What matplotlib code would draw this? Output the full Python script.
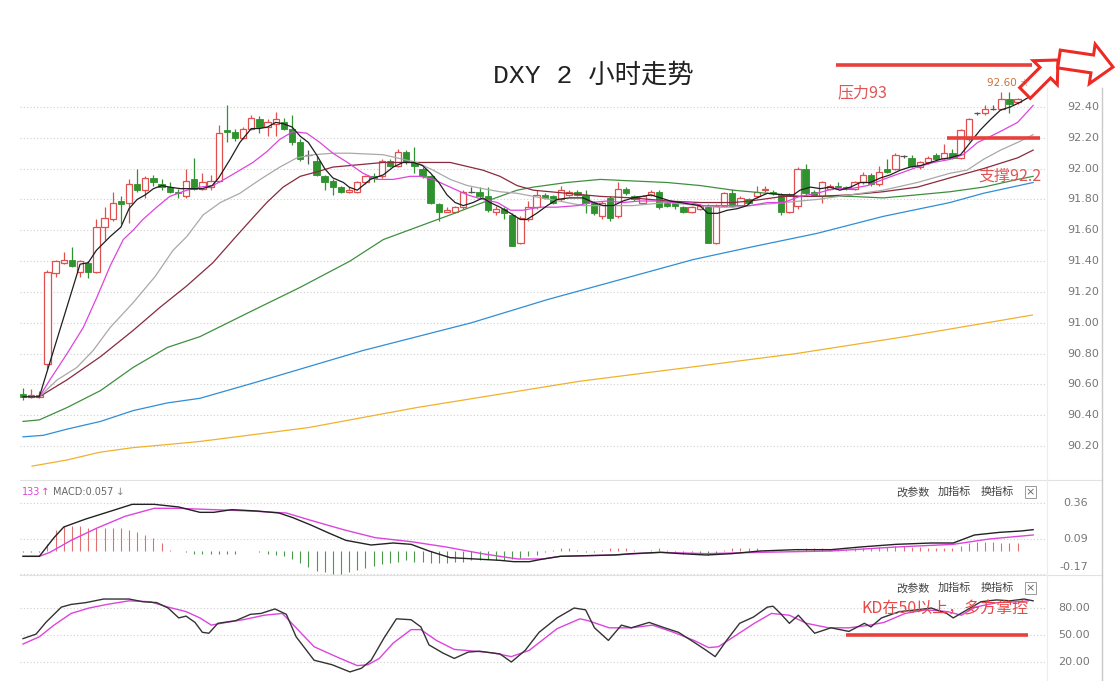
import matplotlib
matplotlib.use("Agg")
import matplotlib.pyplot as plt
from matplotlib.patches import Rectangle, FancyArrow

# 2 hour candles
opens = [90.54, 90.52, 90.52, 90.73, 91.32, 91.39, 91.41, 91.33, 91.39, 91.33,
         91.62, 91.67, 91.79, 91.78, 91.90, 91.86, 91.94, 91.90, 91.88, 91.85,
         91.82, 91.93, 91.87, 91.88, 91.92, 92.25, 92.24, 92.20, 92.26, 92.32,
         92.27, 92.29, 92.30, 92.26, 92.17, 92.09, 92.05, 91.95, 91.92, 91.88,
         91.85, 91.85, 91.91, 91.95, 91.95, 92.05, 92.02, 92.11, 92.04, 92.00,
         91.95, 91.77, 91.72, 91.72, 91.75, 91.85, 91.85, 91.82, 91.72, 91.74,
         91.70, 91.52, 91.67, 91.75, 91.83, 91.82, 91.80, 91.83, 91.85, 91.83,
         91.78, 91.69, 91.81, 91.69, 91.87, 91.82, 91.78, 91.83, 91.85, 91.78,
         91.78, 91.75, 91.72, 91.74, 91.75, 91.52, 91.76, 91.84, 91.76, 91.80,
         91.82, 91.86, 91.85, 91.83, 91.72, 91.76, 92.00, 91.85, 91.82, 91.87,
         91.89, 91.88, 91.87, 91.91, 91.96, 91.90, 92.00, 92.00, 92.08, 92.07,
         92.01, 92.04, 92.09, 92.07, 92.10, 92.07, 92.19, 92.36, 92.36, 92.39,
         92.39, 92.45, 92.43]
closes = [90.52, 90.53, 90.53, 91.33, 91.40, 91.41, 91.37, 91.40, 91.33, 91.62,
          91.68, 91.78, 91.77, 91.90, 91.86, 91.94, 91.91, 91.88, 91.85, 91.84,
          91.92, 91.87, 91.91, 91.92, 92.23, 92.24, 92.20, 92.26, 92.33, 92.27,
          92.30, 92.32, 92.26, 92.17, 92.06, 92.09, 91.96, 91.91, 91.88, 91.85,
          91.86, 91.91, 91.95, 91.94, 92.05, 92.02, 92.11, 92.04, 92.02, 91.95,
          91.78, 91.72, 91.73, 91.75, 91.85, 91.85, 91.82, 91.73, 91.74, 91.71,
          91.50, 91.68, 91.75, 91.83, 91.81, 91.78, 91.86, 91.85, 91.83, 91.78,
          91.71, 91.78, 91.68, 91.87, 91.84, 91.80, 91.82, 91.85, 91.75, 91.76,
          91.76, 91.72, 91.75, 91.76, 91.52, 91.76, 91.84, 91.76, 91.81, 91.78,
          91.85, 91.87, 91.84, 91.72, 91.83, 92.00, 91.84, 91.83, 91.91, 91.89,
          91.88, 91.87, 91.91, 91.96, 91.90, 91.98, 91.98, 92.09, 92.08, 92.02,
          92.04, 92.07, 92.06, 92.10, 92.07, 92.25, 92.32, 92.36, 92.39, 92.39,
          92.45, 92.42, 92.45]
highs = [90.58, 90.57, 90.56, 91.34, 91.41, 91.46, 91.49, 91.41, 91.40, 91.67,
         91.75, 91.85, 91.82, 91.93, 92.00, 91.95, 91.96, 91.93, 91.91, 91.87,
         92.00, 92.07, 91.97, 91.96, 92.28, 92.41, 92.26, 92.27, 92.35, 92.34,
         92.32, 92.37, 92.33, 92.35, 92.19, 92.12, 92.08, 91.96, 91.93, 91.89,
         91.88, 91.92, 91.96, 91.97, 92.06, 92.06, 92.13, 92.12, 92.14, 92.01,
         91.96, 91.78, 91.75, 91.76, 91.86, 91.88, 91.88, 91.88, 91.76, 91.75,
         91.71, 91.69, 91.79, 91.86, 91.84, 91.83, 91.89, 91.86, 91.86, 91.86,
         91.79, 91.79, 91.82, 91.91, 91.88, 91.83, 91.83, 91.86, 91.86, 91.79,
         91.79, 91.76, 91.76, 91.77, 91.77, 91.77, 91.85, 91.87, 91.82, 91.81,
         91.89, 91.89, 91.86, 91.84, 91.84, 92.01, 92.03, 91.86, 91.92, 91.90,
         91.91, 91.89, 91.92, 91.98, 91.97, 92.02, 92.06, 92.10, 92.09, 92.09,
         92.05, 92.08, 92.10, 92.16, 92.13, 92.26, 92.33, 92.37, 92.41, 92.41,
         92.50, 92.50, 92.46]
lows = [90.50, 90.51, 90.51, 90.70, 91.30, 91.38, 91.36, 91.30, 91.29, 91.32,
        91.54, 91.66, 91.64, 91.65, 91.85, 91.81, 91.89, 91.86, 91.84, 91.81,
        91.81, 91.86, 91.86, 91.86, 91.91, 92.17, 92.18, 92.19, 92.25, 92.23,
        92.21, 92.21, 92.25, 92.15, 92.05, 92.03, 91.95, 91.86, 91.83, 91.84,
        91.84, 91.84, 91.90, 91.91, 91.94, 92.01, 92.01, 92.03, 91.97, 91.94,
        91.77, 91.66, 91.72, 91.71, 91.74, 91.84, 91.81, 91.72, 91.70, 91.67,
        91.50, 91.51, 91.66, 91.74, 91.80, 91.77, 91.79, 91.82, 91.82, 91.71,
        91.70, 91.67, 91.66, 91.68, 91.83, 91.79, 91.77, 91.82, 91.74, 91.75,
        91.74, 91.71, 91.71, 91.73, 91.52, 91.51, 91.75, 91.75, 91.75, 91.77,
        91.81, 91.85, 91.83, 91.70, 91.71, 91.74, 91.83, 91.82, 91.78, 91.86,
        91.87, 91.86, 91.86, 91.90, 91.89, 91.89, 91.97, 91.99, 92.07, 92.01,
        92.00, 92.03, 92.05, 92.06, 92.06, 92.06, 92.18, 92.35, 92.35, 92.38,
        92.38, 92.36, 92.42]

# moving averages as (bar index, price) read at points along each line
ma5_pts = [(0, 90.52), (2, 90.52), (7, 91.38), (8, 91.39), (9, 91.47), (10.7, 91.56),
           (12, 91.62), (13, 91.74), (14, 91.80), (15, 91.83), (16, 91.87), (17, 91.89),
           (18, 91.88), (19.3, 91.87), (21, 91.87), (22, 91.87), (23.2, 91.89), (24, 91.94),
           (25.4, 92.06), (26.6, 92.17), (28, 92.26), (29, 92.26), (30, 92.27), (31, 92.30),
           (32, 92.29), (33, 92.27), (34, 92.21), (35, 92.17), (36, 92.09), (37, 92.00),
           (38, 91.94), (39.3, 91.91), (40, 91.88), (41, 91.86), (42.6, 91.93), (44.2, 91.96),
           (45.4, 92.01), (46.6, 92.04), (47.9, 92.04), (49, 92.02), (50, 91.97), (51, 91.91),
           (52, 91.83), (53, 91.78), (54, 91.76), (55.2, 91.78), (56.4, 91.81), (57.3, 91.78),
           (58.5, 91.75), (59.8, 91.71), (61, 91.67), (61.8, 91.67), (63, 91.71), (64.3, 91.76),
           (65.5, 91.80), (67, 91.81), (68.7, 91.81), (70, 91.78), (71.2, 91.76), (72.4, 91.76),
           (73.6, 91.79), (74.8, 91.81), (76, 91.82), (77, 91.83), (78.2, 91.81), (79.4, 91.79),
           (80.6, 91.78), (81.8, 91.77), (83, 91.76), (84, 91.71), (85.2, 91.71), (86.4, 91.73),
           (87.6, 91.74), (88.8, 91.76), (89.6, 91.80), (91.3, 91.84), (93.3, 91.83), (94.5, 91.83),
           (95.3, 91.86), (96.6, 91.88), (97.8, 91.87), (99, 91.88), (100.2, 91.86), (101.5, 91.88),
           (102.7, 91.91), (103.9, 91.91), (105.2, 91.94), (106.4, 91.96), (107.6, 91.99),
           (108.8, 92.01), (110.1, 92.02), (111.3, 92.04), (112.5, 92.06), (113.7, 92.07),
           (115, 92.09), (116.2, 92.17), (117.4, 92.25), (118.7, 92.32), (119.9, 92.38),
           (121.1, 92.40), (122.3, 92.43), (123.9, 92.48)]
ma10_pts = [(2, 90.52), (3.3, 90.63), (5.4, 90.80), (7.4, 90.97), (9.1, 91.17), (10.7, 91.37),
            (12.3, 91.54), (13.5, 91.60), (14.7, 91.67), (16.4, 91.75), (18, 91.82), (20.1, 91.86),
            (21.7, 91.88), (23.3, 91.89), (25, 91.94), (26.6, 91.99), (28.2, 92.04), (29.9, 92.11),
            (31.5, 92.19), (33.1, 92.24), (34.8, 92.23), (36.4, 92.17), (38, 92.10), (39.8, 92.04),
            (41.7, 91.97), (43.4, 91.93), (45.4, 91.93), (47.5, 91.95), (48.7, 91.95), (50.3, 91.93),
            (52.4, 91.88), (54.5, 91.83), (56.4, 91.80), (58.2, 91.78), (59.8, 91.73), (61.3, 91.73),
            (63.4, 91.75), (65.5, 91.75), (68, 91.76), (69.6, 91.78), (71.7, 91.79), (73.6, 91.78),
            (75.7, 91.79), (77.8, 91.79), (79.8, 91.78), (81.8, 91.78), (83.4, 91.76), (85.2, 91.76),
            (87.1, 91.76), (89.2, 91.76), (91.3, 91.78), (93.3, 91.78), (95.3, 91.82), (97.4, 91.84),
            (99.4, 91.87), (101.5, 91.87), (103.6, 91.89), (105.5, 91.93), (107.6, 91.97),
            (109.7, 92.01), (111.7, 92.04), (113.7, 92.06), (115.3, 92.09), (117.1, 92.17),
            (118.7, 92.21), (120.2, 92.25), (122, 92.30), (123.9, 92.41)]
ma20_pts = [(2, 90.52), (4.2, 90.63), (6.6, 90.71), (8.6, 90.82), (10.7, 90.97), (13.5, 91.13),
            (16.2, 91.30), (18.4, 91.47), (20.1, 91.56), (22.1, 91.70), (24.2, 91.78), (26.6, 91.84),
            (29.1, 91.93), (31.5, 92.01), (33.6, 92.07), (35.6, 92.09), (38, 92.10), (40.1, 92.10),
            (44.2, 92.09), (48.3, 92.04), (50.3, 91.99), (52.4, 91.93), (54.5, 91.89), (56.4, 91.87),
            (58.5, 91.85), (60.6, 91.84), (62.6, 91.82), (64.7, 91.80), (66.7, 91.78), (68.7, 91.76),
            (70.8, 91.76), (72.9, 91.76), (74.8, 91.76), (76.9, 91.77), (79, 91.78), (81, 91.77),
            (83.1, 91.76), (85.2, 91.75), (87.1, 91.75), (89.2, 91.76), (93.3, 91.78), (97.4, 91.80),
            (101.5, 91.83), (105.5, 91.86), (109.7, 91.91), (113.7, 91.97), (115.8, 91.99),
            (117.8, 92.06), (119.9, 92.12), (122, 92.17), (123.9, 92.22)]
ma30_pts = [(2, 90.52), (5.4, 90.63), (9.5, 90.78), (13.5, 90.95), (16.8, 91.10), (20.1, 91.24),
            (23.3, 91.39), (25.8, 91.54), (28, 91.67), (29.9, 91.78), (31.9, 91.88), (34, 91.95),
            (36.1, 91.98), (38, 92.01), (40.1, 92.02), (44.2, 92.04), (48.3, 92.04), (52.4, 92.04),
            (56.4, 91.99), (58.5, 91.95), (60.6, 91.89), (62.6, 91.86), (66.7, 91.84), (70.8, 91.82),
            (74.8, 91.81), (79, 91.79), (83.1, 91.78), (87.1, 91.78), (89.2, 91.79), (93.3, 91.82),
            (97.4, 91.82), (101.5, 91.83), (105.5, 91.85), (109.7, 91.88), (113.7, 91.94),
            (117.8, 92.00), (122, 92.07), (123.9, 92.12)]
ma60_pts = [(0, 90.36), (2, 90.37), (5.4, 90.45), (9.5, 90.56), (13.5, 90.71), (17.7, 90.84),
            (21.7, 90.91), (28.2, 91.08), (34, 91.23), (40.1, 91.40), (44.2, 91.54), (48.3, 91.62),
            (52.4, 91.70), (56.4, 91.78), (58.5, 91.82), (60.6, 91.86), (62.6, 91.88), (66.7, 91.91),
            (70.8, 91.93), (74.8, 91.92), (79, 91.91), (83.1, 91.89), (87.1, 91.86), (89.2, 91.85),
            (95.3, 91.82), (101.5, 91.82), (105.5, 91.81), (109.7, 91.83), (113.7, 91.85),
            (117.8, 91.88), (122, 91.93), (123.9, 91.95)]
ma120_pts = [(0, 90.26), (2.5, 90.27), (5.4, 90.31), (9.5, 90.36), (13.5, 90.43), (17.7, 90.48),
             (21.7, 90.51), (28.3, 90.61), (41.7, 90.82), (55, 91.00), (64.3, 91.15), (82.2, 91.41),
             (89.2, 91.49), (97.4, 91.58), (105.5, 91.69), (113.7, 91.78), (117.8, 91.84),
             (123.9, 91.91)]
ma250_pts = [(1.1, 90.07), (5.4, 90.11), (9.4, 90.16), (13.5, 90.19), (17.7, 90.21), (21.7, 90.23),
             (35, 90.32), (48.3, 90.45), (68.2, 90.62), (81.6, 90.71), (94.8, 90.80), (108.2, 90.91),
             (123.8, 91.05)]

price_ticks = [90.20, 90.40, 90.60, 90.80, 91.00, 91.20, 91.40, 91.60, 91.80, 92.00, 92.20, 92.40]

# MACD panel
macd_hist = [-0.01, -0.01, -0.01, 0.05, 0.16, 0.19, 0.19, 0.19, 0.17, 0.17,
             0.17, 0.17, 0.17, 0.16, 0.14, 0.12, 0.10, 0.06, 0.01, 0.0,
             -0.01, -0.02, -0.02, -0.02, -0.02, -0.02, -0.02, 0.0, 0.0, -0.01,
             -0.02, -0.03, -0.04, -0.06, -0.09, -0.12, -0.15, -0.16, -0.17, -0.17,
             -0.16, -0.14, -0.13, -0.11, -0.10, -0.09, -0.08, -0.07, -0.08, -0.08,
             -0.09, -0.09, -0.09, -0.08, -0.08, -0.07, -0.07, -0.06, -0.07, -0.07,
             -0.06, -0.05, -0.04, -0.03, -0.01, 0.01, 0.02, 0.02, 0.01, -0.01,
             -0.01, 0.01, 0.02, 0.02, 0.02, 0.01, 0.0, 0.01, 0.02, 0.01,
             -0.01, -0.02, -0.01, -0.02, -0.03, -0.02, 0.01, 0.02, 0.02, 0.02,
             0.02, 0.01, 0.01, 0.01, 0.0, 0.01, 0.02, 0.02, 0.02, 0.01,
             0.01, 0.01, 0.02, 0.02, 0.02, 0.03, 0.03, 0.04, 0.04, 0.03,
             0.03, 0.02, 0.02, 0.02, 0.02, 0.04, 0.06, 0.07, 0.07, 0.07,
             0.06, 0.06, 0.06]
dif_pts = [(0, -0.04), (2, -0.04), (3.8, 0.10), (5, 0.18), (7.7, 0.24), (10.3, 0.29), (13.4, 0.35),
           (16.1, 0.35), (19.1, 0.33), (21.7, 0.29), (23.4, 0.29), (25.6, 0.31), (28.7, 0.30),
           (31.4, 0.285), (33.1, 0.25), (35.3, 0.195), (37.5, 0.135), (39.6, 0.08), (42.7, 0.045),
           (45.4, 0.06), (47.6, 0.05), (49.8, 0.0), (52.4, -0.05), (55.5, -0.06), (58.5, -0.07),
           (60.2, -0.08), (62.1, -0.08), (63.8, -0.06), (65.9, -0.04), (72.5, -0.03), (74.6, -0.02),
           (78.2, -0.01), (80.7, -0.02), (83.8, -0.03), (86.9, -0.02), (90.4, 0.0), (94.8, 0.01),
           (99.1, 0.01), (102.7, 0.03), (107.1, 0.05), (111.4, 0.06), (114.1, 0.06), (116.7, 0.12),
           (119.8, 0.14), (122.4, 0.15), (123.9, 0.16)]
dea_pts = [(0, -0.04), (2, -0.04), (3.3, -0.01), (5.9, 0.08), (9, 0.17), (12.5, 0.26), (16.1, 0.32),
           (19.1, 0.32), (23.4, 0.31), (27.9, 0.30), (32.3, 0.285), (35.3, 0.23), (39.3, 0.16),
           (43.2, 0.10), (47.6, 0.07), (51.9, 0.03), (56.3, -0.02), (60.7, -0.06), (63.8, -0.06),
           (65.9, -0.04), (72.5, -0.03), (78.2, -0.01), (83.8, -0.02), (90.4, -0.01), (99.1, 0.0),
           (107.1, 0.03), (114.1, 0.05), (118.5, 0.09), (123.9, 0.12)]
macd_ticks = [0.36, 0.09, -0.17]

# KD panel
k_pts = [(0, 46), (1.6, 51), (2.8, 64), (4.7, 81), (5.9, 84), (7.7, 86), (9.9, 90), (13, 90),
         (14.7, 87), (16.4, 86), (17.8, 80), (19.1, 69), (20, 71), (21.1, 64), (22, 53), (22.8, 52),
         (23.9, 63), (26.1, 66), (27.9, 73), (29.2, 74), (30.9, 79), (32.3, 73), (33.5, 48),
         (35.7, 22), (37.9, 17), (40.1, 9), (41.5, 13), (42.7, 22), (44.3, 47), (45.8, 68),
         (47.6, 67), (48.8, 59), (49.8, 39), (51.5, 30), (52.9, 24), (54.6, 31), (56, 32),
         (58.5, 29), (59.9, 20), (61.6, 33), (63.3, 53), (65.5, 69), (67.6, 80), (69, 78),
         (70.1, 58), (71.8, 44), (73.4, 61), (74.6, 58), (76.8, 64), (78.7, 58), (80.4, 53),
         (82.3, 42), (83.8, 33), (84.9, 26), (86.3, 44), (87.9, 63), (89.6, 70), (91.3, 81),
         (92, 82), (92.9, 74), (94, 63), (95.1, 72), (97.1, 52), (99.1, 58), (101.3, 54),
         (103.2, 63), (104, 59), (105.3, 69), (107.5, 76), (109.7, 78), (111.4, 80), (113.3, 74),
         (114.1, 69), (115.8, 78), (117.5, 87), (119.4, 89), (121.1, 88), (122.8, 90), (123.9, 88)]
d_pts = [(0, 40), (2, 48), (3.8, 61), (5.9, 74), (8.1, 80), (10.3, 84), (13, 88), (15.6, 87),
         (17.8, 81), (20, 76), (21.7, 69), (23.1, 61), (24.3, 63), (27, 67), (29.6, 72), (31.8, 74),
         (33.5, 58), (35.7, 37), (38.4, 26), (41, 16), (42.3, 17), (43.7, 24), (45.4, 41),
         (47.6, 56), (48.8, 56), (50.7, 44), (52.9, 34), (55.5, 32), (57.7, 30), (59.9, 26),
         (62.1, 33), (65.5, 57), (68.3, 68), (69.3, 66), (71.9, 58), (74.6, 58), (77.2, 61),
         (79.8, 53), (82.3, 44), (84.1, 36), (85.3, 37), (87.5, 50), (89.7, 63), (91.8, 74),
         (94, 72), (96.1, 63), (98.8, 58), (101.3, 58), (103.9, 61), (105.6, 64), (108.2, 74),
         (110.8, 78), (113.4, 76), (115.1, 72), (116.8, 81), (119.5, 86), (122.1, 87), (123.3, 88)]
kd_ticks = [80, 50, 20]

W, H = 1119, 681
fig = plt.figure(figsize=(W / 100, H / 100), dpi=100)


def box(left, top, right, bottom):
    return [left / W, 1 - bottom / H, (right - left) / W, (bottom - top) / H]


ax = fig.add_axes(box(20, 88, 1047, 480))
macd_ax = fig.add_axes(box(20, 480, 1047, 575))
kd_ax = fig.add_axes(box(20, 575, 1047, 681))
for a in (ax, macd_ax, kd_ax):
    a.set_xlim(-0.37, 125.6)
    a.axis('off')
ax.set_ylim(89.98, 92.523)
macd_ax.set_ylim(-0.18, 0.5325)
kd_ax.set_ylim(-1.1, 116.7)

grid_kw = dict(color='#cfcfcf', lw=0.8, ls=(0, (1, 2)), zorder=0)
label_kw = dict(fontsize=8, color='#777777', va='center')

for v in price_ticks:
    ax.axhline(v, **grid_kw)
    ax.text(1.0195, v, f'{v:.2f}', transform=ax.get_yaxis_transform(), ha='left', **label_kw)

red = '#e05050'
green = '#2f922f'
bw = 0.78
for i, (o, h, l, c) in enumerate(zip(opens, highs, lows, closes)):
    if c > o:
        ax.vlines(i, l, o, color=red, lw=0.9, zorder=2)
        ax.vlines(i, c, h, color=red, lw=0.9, zorder=2)
        ax.add_patch(Rectangle((i - bw / 2, o), bw, c - o, fc='white', ec=red, lw=0.9, zorder=2))
    elif c < o:
        ax.vlines(i, l, h, color=green, lw=0.9, zorder=2)
        ax.add_patch(Rectangle((i - bw / 2, c), bw, o - c, fc=green, ec=green, lw=0.6, zorder=2))
    else:
        ax.vlines(i, l, h, color='#555555', lw=0.9, zorder=2)
        ax.hlines(o, i - bw / 2, i + bw / 2, color='#555555', lw=0.9, zorder=2)

ma_lines = [(ma250_pts, '#f0b22e'), (ma120_pts, '#2f8ed6'), (ma60_pts, '#3f8f3f'),
            (ma30_pts, '#8a2a3c'), (ma20_pts, '#a9a9a9'), (ma10_pts, '#dd44dd'),
            (ma5_pts, '#1e1e1e')]
for pts, col in ma_lines:
    xs, ys = zip(*pts)
    ax.plot(xs, ys, color=col, lw=0.9, zorder=3)

# support line at 92.2
ax.hlines(92.20, 113.3, 124.7, color='#e8413c', lw=2.6, zorder=4)

# MACD
for v in macd_ticks:
    macd_ax.axhline(v, **grid_kw)
for i, v in enumerate(macd_hist):
    if v != 0:
        macd_ax.vlines(i, 0, v, color='#e07070' if v > 0 else '#4a9a4a', lw=0.8, zorder=1)
for pts, col in [(dea_pts, '#dd44dd'), (dif_pts, '#222222')]:
    xs, ys = zip(*pts)
    macd_ax.plot(xs, ys, color=col, lw=1.0, zorder=2)
for v, off in zip(macd_ticks, [0, 0, 7]):
    macd_ax.annotate(f'{v:.2f}', xy=(1.04, v), xycoords=('axes fraction', 'data'),
                     xytext=(0, off), textcoords='offset pixels', ha='right', **label_kw)

# KD
for v in kd_ticks:
    kd_ax.axhline(v, **grid_kw)
for pts, col in [(d_pts, '#dd44dd'), (k_pts, '#333333')]:
    xs, ys = zip(*pts)
    kd_ax.plot(xs, ys, color=col, lw=1.0, zorder=2)
kd_ax.hlines(50, 101.0, 123.3, color='#e8413c', lw=2.6, zorder=3)
for v in kd_ticks:
    kd_ax.text(1.042, v, f'{v:.2f}', transform=kd_ax.get_yaxis_transform(), ha='right', **label_kw)

# overlay in pixel units for frame lines and notes
ov = fig.add_axes([0, 0, 1, 1], zorder=10)
ov.set_xlim(0, W)
ov.set_ylim(H, 0)
ov.axis('off')
ov.patch.set_alpha(0)

ov.plot([20, 1102], [480, 480], color='#e2e2e2', lw=0.8)
ov.plot([20, 1102], [575, 575], color='#e2e2e2', lw=0.8)
ov.plot([1047, 1047], [88, 681], color='#ececec', lw=0.8)
ov.plot([1102, 1102], [88, 681], color='#c9c9c9', lw=1.0)

cjk = ['Noto Sans CJK SC', 'DejaVu Sans']
ov.text(593, 75, 'DXY 2 小时走势', ha='center', va='center', fontsize=19, color='#222222',
        family=['Liberation Mono', 'Noto Sans CJK SC'])

ov.plot([836, 1032], [65, 65], color='#e8413c', lw=2.6, solid_capstyle='butt')
ov.text(838, 93, '压力93', ha='left', va='center', fontsize=11.5, color='#e05555', family=cjk)
ov.text(978, 176, '支撑92.2', ha='left', va='center', fontsize=11.5, color='#e05555', family=cjk)
ov.text(987, 83, '92.60 ☆', ha='left', va='center', fontsize=7.5, color='#c8703a')
ov.text(861, 609, 'KD在50以上，多方掌控', ha='left', va='center', fontsize=11.5,
        color='#e84848', family=cjk)

ov.add_patch(FancyArrow(1025, 93, 33, -33, width=15, head_width=34, head_length=18,
                        length_includes_head=True, fc='white', ec='#ee2a24', lw=2.2))
ov.add_patch(FancyArrow(1059, 59, 54, 8, width=18, head_width=40, head_length=21,
                        length_includes_head=True, fc='white', ec='#ee2a24', lw=2.2))

# MACD header
ov.text(22, 492, '133', ha='left', va='center', fontsize=7, color='#dd44dd')
ov.text(41, 492, '↑', ha='left', va='center', fontsize=7.5, color='#dd44dd')
ov.text(53, 492, 'MACD:0.057', ha='left', va='center', fontsize=7, color='#666666')
ov.text(116, 492, '↓', ha='left', va='center', fontsize=7.5, color='#888888')

for yy in (492, 588):
    ov.text(896, yy, '改参数', ha='left', va='center', fontsize=8, color='#444444', family=cjk)
    ov.text(938, yy, '加指标', ha='left', va='center', fontsize=8, color='#444444', family=cjk)
    ov.text(981, yy, '换指标', ha='left', va='center', fontsize=8, color='#444444', family=cjk)
    ov.add_patch(Rectangle((1025, yy - 6), 11, 12, fc='white', ec='#999999', lw=0.7))
    ov.text(1030.5, yy, '×', ha='center', va='center', fontsize=8, color='#666666')

fig.savefig('out.png', dpi=100)
